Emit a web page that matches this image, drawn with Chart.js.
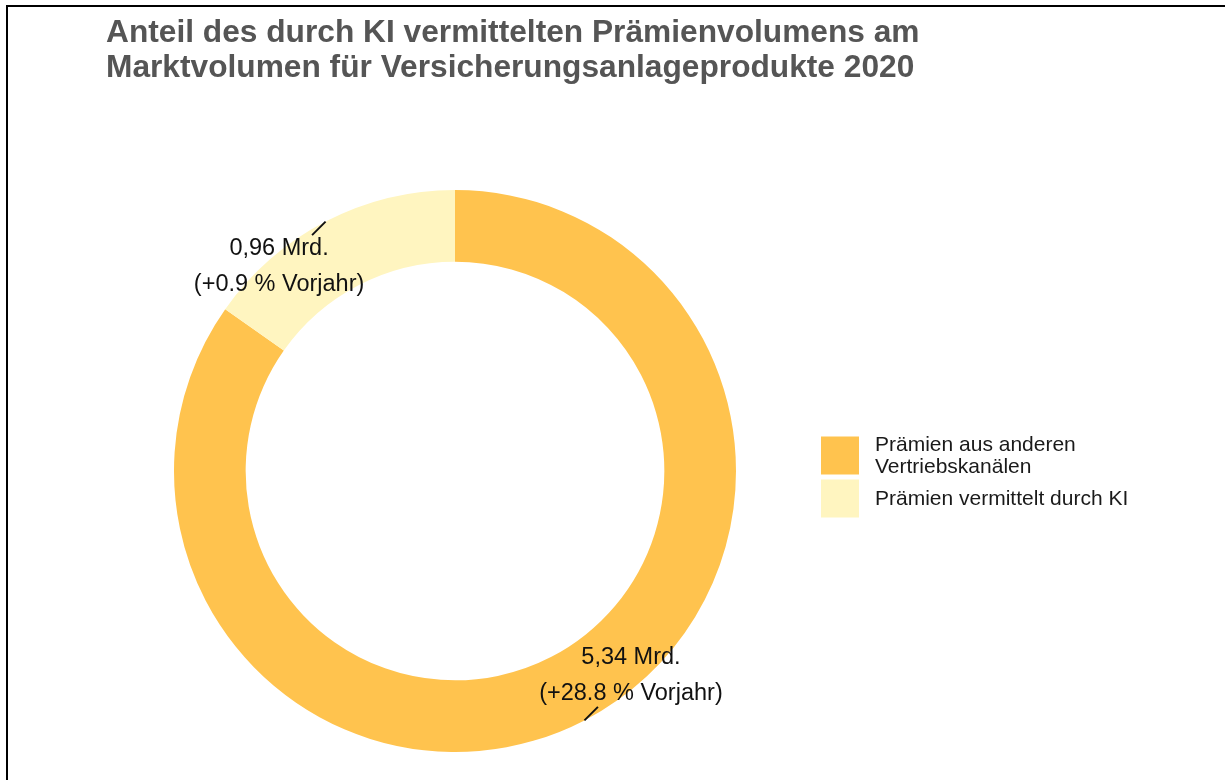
<!DOCTYPE html>
<html lang="de">
<head>
<meta charset="utf-8">
<title>Anteil KI Prämienvolumen</title>
<script src="https://cdn.jsdelivr.net/npm/chart.js@4"></script>
<style>
	html, body { margin: 0; padding: 0; background: #fff; }
	#wrap { position: relative; width: 1225px; height: 780px; overflow: hidden; }
	#frame {
		position: absolute; left: 6px; top: 5px; width: 1225px; height: 800px;
		border-top: 2px solid #000; border-left: 2px solid #000; pointer-events: none;
	}
	canvas { display: block; }
</style>
</head>
<body>
<div id="wrap">
	<canvas id="donutKI" width="1225" height="780"></canvas>
	<div id="frame"></div>
</div>
<script>
var titleLines = [
	"Anteil des durch KI vermittelten Prämienvolumens am",
	"Marktvolumen für Versicherungsanlageprodukte 2020"
];
var categories = ["Prämien aus anderen Vertriebskanälen", "Prämien vermittelt durch KI"];
var legendLines = [["Prämien aus anderen", "Vertriebskanälen"], ["Prämien vermittelt durch KI"]];
var volumes = [5.34, 0.96];
var changes = [28.8, 0.9];
var colors = ["#FFC34E", "#FFF5C0"];

document.addEventListener("DOMContentLoaded", function () {
	var ctx = document.getElementById("donutKI").getContext("2d");
	var labelFont = "23.5px 'Liberation Sans', Arial, Helvetica, sans-serif";
	var legendFont = "21px 'Liberation Sans', Arial, Helvetica, sans-serif";

	// labels with short leader ticks at the middle of each arc
	var sliceLabels = {
		id: "sliceLabels",
		afterDatasetsDraw: function (chart) {
			var meta = chart.getDatasetMeta(0);
			var c = chart.ctx;
			c.save();
			meta.data.forEach(function (arc, i) {
				var p = arc.getProps(["x", "y", "startAngle", "endAngle", "outerRadius"], true);
				var mid = (p.startAngle + p.endAngle) / 2;
				var px = p.x + Math.cos(mid) * p.outerRadius;
				var py = p.y + Math.sin(mid) * p.outerRadius;
				var dx = Math.cos(mid) < 0 ? -1 : 1;
				var dy = Math.sin(mid) < 0 ? 1 : -1;
				var ex = px + dx * 13.5;
				var ey = py + dy * 13.5;

				c.strokeStyle = "#111";
				c.lineWidth = 2;
				c.beginPath();
				c.moveTo(px, py);
				c.lineTo(ex, ey);
				c.stroke();

				var line1 = volumes[i].toFixed(2).replace(".", ",") + " Mrd.";
				var line2 = "(+" + changes[i].toFixed(1) + " % Vorjahr)";
				var tx = ex + dx * 33;
				var ty = ey + dy * 31;
				c.font = labelFont;
				c.fillStyle = "#111";
				c.textAlign = "center";
				c.textBaseline = "middle";
				c.fillText(line1, tx, ty - 18);
				c.fillText(line2, tx, ty + 18);
			});
			c.restore();
		}
	};

	// right-hand legend with wrapped text; it also reserves its column in the layout
	var sideLegend = {
		id: "sideLegend",
		beforeInit: function (chart) {
			var box = {
				position: "right",
				weight: 0,
				fullSize: false,
				options: {},
				width: 0,
				height: 0,
				isHorizontal: function () { return false; },
				update: function (maxWidth, maxHeight) {
					this.width = 421;
					this.height = maxHeight;
				},
				draw: function () {},
			};
			Chart.layouts.addBox(chart, box);
		},
		afterDraw: function (chart) {
			var c = chart.ctx;
			var x = 821;
			var y = 436.5;
			c.save();
			categories.forEach(function (cat, i) {
				var lines = legendLines[i];
				c.fillStyle = colors[i];
				c.fillRect(x, y, 38, 38);
				c.font = legendFont;
				c.fillStyle = "#1a1a1a";
				c.textAlign = "left";
				c.textBaseline = "middle";
				var mid = y + 19.5;
				lines.forEach(function (t, k) {
					c.fillText(t, x + 54, mid + (k - (lines.length - 1) / 2) * 22);
				});
				y += 43;
			});
			c.restore();
		}
	};

	new Chart(ctx, {
		type: "doughnut",
		data: {
			labels: categories,
			datasets: [
				{
					data: volumes,
					backgroundColor: colors,
					borderWidth: 0,
				},
			],
		},
		options: {
			responsive: false,
			animation: false,
			events: [],
			cutout: "74.5%",
			layout: {
				padding: { left: 106, right: 0, top: 0, bottom: 28 },
			},
			plugins: {
				legend: { display: false },
				tooltip: { enabled: false },
				title: {
					display: true,
					text: titleLines,
					align: "start",
					color: "#555555",
					font: {
						family: "'Liberation Sans', Arial, Helvetica, sans-serif",
						size: 31.7,
						weight: "bold",
						lineHeight: 35 / 31.7,
					},
					padding: { top: 15.5, bottom: 104.5 },
				},
			},
		},
		plugins: [sliceLabels, sideLegend],
	});
});
</script>
</body>
</html>
